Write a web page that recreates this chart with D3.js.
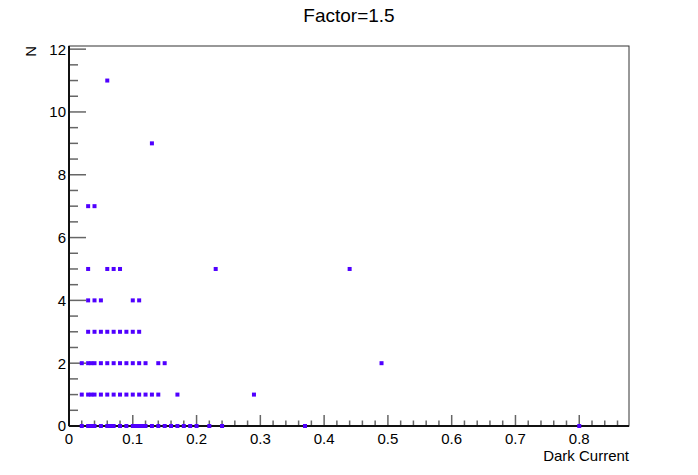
<!DOCTYPE html>
<html>
<head>
<meta charset="utf-8">
<script src="https://cdn.jsdelivr.net/npm/d3@7"></script>
<style>
  body { margin: 0; background: #fff; }
  text { font-family: 'Liberation Sans', Arial, Helvetica, sans-serif; fill: #000; }
</style>
</head>
<body>
<svg id="chart" width="698" height="475"></svg>
<script>
// dark current values for each observed count N
const darkCurrentN0 = [0.02, 0.03, 0.035, 0.04, 0.05, 0.06, 0.065, 0.07, 0.08, 0.09, 0.1, 0.103, 0.106, 0.11, 0.115, 0.12, 0.13, 0.14, 0.15, 0.16, 0.17, 0.18, 0.19, 0.2, 0.22, 0.24, 0.37, 0.8]
const darkCurrentN1 = [0.02, 0.03, 0.035, 0.04, 0.05, 0.06, 0.07, 0.08, 0.09, 0.1, 0.11, 0.12, 0.13, 0.14, 0.17, 0.29]
const darkCurrentN2 = [0.02, 0.03, 0.035, 0.04, 0.05, 0.06, 0.07, 0.08, 0.09, 0.1, 0.11, 0.12, 0.14, 0.15, 0.49]
const darkCurrentN3 = [0.03, 0.04, 0.05, 0.06, 0.07, 0.08, 0.09, 0.1, 0.11]
const darkCurrentN4 = [0.03, 0.04, 0.05, 0.1, 0.11]
const darkCurrentN5 = [0.03, 0.06, 0.07, 0.08, 0.23, 0.44]
const darkCurrentN7 = [0.03, 0.04]
const darkCurrentN9 = [0.13]
const darkCurrentN11 = [0.06]

const xTicks = [0, 0.1, 0.2, 0.3, 0.4, 0.5, 0.6, 0.7, 0.8]
const yTicks = [0, 2, 4, 6, 8, 10, 12]

const groups = [
  [0, darkCurrentN0], [1, darkCurrentN1], [2, darkCurrentN2], [3, darkCurrentN3],
  [4, darkCurrentN4], [5, darkCurrentN5], [7, darkCurrentN7], [9, darkCurrentN9], [11, darkCurrentN11]
]
const points = groups.flatMap(([n, xs]) => xs.map(x => ({ x, n })))

const svg = d3.select('#chart')
const frame = { left: 69, right: 629, top: 46, bottom: 426 }

const x = d3.scaleLinear().domain([0, 0.878]).range([frame.left, frame.right])
const y = d3.scaleLinear().domain([0, 12.1]).range([frame.bottom, frame.top])

// frame
svg.append('rect')
  .attr('x', frame.left).attr('y', frame.top)
  .attr('width', frame.right - frame.left).attr('height', frame.bottom - frame.top)
  .attr('fill', 'none').attr('stroke', '#333').attr('stroke-width', 1)

// x axis ticks (pointing up into frame)
const xMinor = d3.range(0, 0.8781, 0.02)
svg.append('g').selectAll('line')
  .data(xMinor)
  .join('line')
  .attr('x1', d => x(d)).attr('x2', d => x(d))
  .attr('y1', frame.bottom)
  .attr('y2', (d, i) => frame.bottom - (i % 5 === 0 ? 11 : 5.5))
  .attr('stroke', '#666').attr('stroke-width', 1.5)

// y axis ticks (pointing right into frame)
const yMinor = d3.range(0, 12.01, 0.5)
svg.append('g').selectAll('line')
  .data(yMinor)
  .join('line')
  .attr('y1', d => y(d)).attr('y2', d => y(d))
  .attr('x1', frame.left)
  .attr('x2', (d, i) => frame.left + (i % 4 === 0 ? 17 : 9))
  .attr('stroke', '#666').attr('stroke-width', 1.5)

// axis lines
svg.append('line')
  .attr('x1', frame.left).attr('x2', frame.right)
  .attr('y1', frame.bottom).attr('y2', frame.bottom)
  .attr('stroke', '#111').attr('stroke-width', 2)
svg.append('line')
  .attr('x1', frame.left).attr('x2', frame.left)
  .attr('y1', frame.top).attr('y2', frame.bottom)
  .attr('stroke', '#111').attr('stroke-width', 2)

// tick labels
svg.append('g').selectAll('text')
  .data(xTicks)
  .join('text')
  .attr('x', d => x(d)).attr('y', frame.bottom + 18)
  .attr('text-anchor', 'middle')
  .attr('font-size', 15)
  .text(d => d === 0 ? '0' : d3.format('.1f')(d))

svg.append('g').selectAll('text')
  .data(yTicks)
  .join('text')
  .attr('x', frame.left - 3).attr('y', d => y(d))
  .attr('dy', '0.36em')
  .attr('text-anchor', 'end')
  .attr('font-size', 15)
  .text(d => d)

// titles
svg.append('text')
  .attr('x', 349).attr('y', 22)
  .attr('text-anchor', 'middle')
  .attr('font-size', 19)
  .text('Factor=1.5')

svg.append('text')
  .attr('x', frame.right).attr('y', 461)
  .attr('text-anchor', 'end')
  .attr('font-size', 15)
  .text('Dark Current')

svg.append('text')
  .attr('transform', `translate(36, ${frame.top}) rotate(-90)`)
  .attr('text-anchor', 'end')
  .attr('font-size', 15)
  .text('N')

// markers
svg.append('g').selectAll('rect')
  .data(points)
  .join('rect')
  .attr('x', d => x(d.x) - 2).attr('y', d => y(d.n) - 2)
  .attr('width', 4).attr('height', 4)
  .attr('fill', '#5000ff')
</script>
</body>
</html>
